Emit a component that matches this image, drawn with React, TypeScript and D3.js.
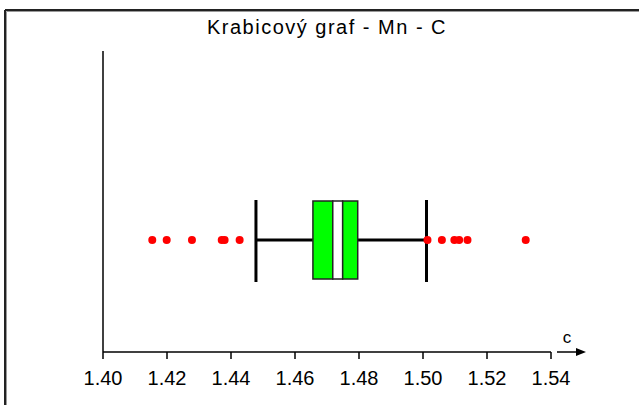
import React from "react";
import * as d3 from "d3";

const title = "Krabicový graf - Mn - C";
const axisLabel = "c";
const tickValues = [1.4, 1.42, 1.44, 1.46, 1.48, 1.5, 1.52, 1.54];
const whiskerLow = 1.4478;
const q1 = 1.4656;
const notchLow = 1.4718;
const notchHigh = 1.4749;
const q3 = 1.4796;
const whiskerHigh = 1.5011;
const outliers = [
  1.4154, 1.4199, 1.4278, 1.4371, 1.438, 1.4427,
  1.5014, 1.5059, 1.5098, 1.5113, 1.5139, 1.5321,
];

const W = 639;
const H = 405;

export default function App() {
  const x = d3.scaleLinear().domain([1.4, 1.54]).range([103, 551]);
  const axisY = 352;
  const cy = 240;
  const boxTop = 201;
  const boxBot = 279;
  const capTop = 200;
  const capBot = 282;
  const font = "'Liberation Sans', Arial, sans-serif";
  return (
    <svg
      width={W}
      height={H}
      style={{ position: "absolute", left: 0, top: 0, background: "#fff" }}
      fontFamily={font}
    >
      {/* frame */}
      <rect x={0} y={0} width={W} height={H} fill="#fff" />
      <line x1={5} y1={10} x2={W} y2={10} stroke="#222" strokeWidth={2} />
      <line x1={5} y1={10} x2={5} y2={H} stroke="#222" strokeWidth={2} />
      <line x1={6.5} y1={11.5} x2={W} y2={11.5} stroke="#999" strokeWidth={1} />
      <line x1={6.5} y1={11.5} x2={6.5} y2={H} stroke="#999" strokeWidth={1} />

      <text x={327} y={34} textAnchor="middle" fontSize={20} letterSpacing={1.5} fill="#000">
        {title}
      </text>

      {/* vertical axis */}
      <line x1={103} y1={51} x2={103} y2={axisY} stroke="#000" strokeWidth={1.5} />
      {/* x axis */}
      <line x1={x(1.4)} y1={axisY} x2={x(1.54)} y2={axisY} stroke="#000" strokeWidth={1.5} />
      {tickValues.map((t) => (
        <g key={t}>
          <line x1={x(t)} y1={axisY} x2={x(t)} y2={axisY + 7} stroke="#000" strokeWidth={1.5} />
          <text x={x(t)} y={385} textAnchor="middle" fontSize={20} fill="#000">
            {d3.format(".2f")(t)}
          </text>
        </g>
      ))}
      {/* arrow */}
      <line x1={557} y1={axisY} x2={578} y2={axisY} stroke="#000" strokeWidth={1.5} />
      <path d={`M576,${axisY - 4} L586,${axisY} L576,${axisY + 4} Z`} fill="#000" />
      <text x={567} y={343} textAnchor="middle" fontSize={17} fill="#000">
        {axisLabel}
      </text>

      {/* whiskers */}
      <line x1={x(whiskerLow)} y1={cy} x2={x(q1)} y2={cy} stroke="#000" strokeWidth={3} />
      <line x1={x(q3)} y1={cy} x2={x(whiskerHigh)} y2={cy} stroke="#000" strokeWidth={3} />
      <line x1={x(whiskerLow)} y1={capTop} x2={x(whiskerLow)} y2={capBot} stroke="#000" strokeWidth={3} />
      <line x1={x(whiskerHigh)} y1={capTop} x2={x(whiskerHigh)} y2={capBot} stroke="#000" strokeWidth={3} />

      {/* box */}
      <rect x={x(q1)} y={boxTop} width={x(notchLow) - x(q1)} height={boxBot - boxTop} fill="#00ff00" stroke="#222" strokeWidth={1.5} />
      <rect x={x(notchLow)} y={boxTop} width={x(notchHigh) - x(notchLow)} height={boxBot - boxTop} fill="#fff" stroke="#222" strokeWidth={1.5} />
      <rect x={x(notchHigh)} y={boxTop} width={x(q3) - x(notchHigh)} height={boxBot - boxTop} fill="#00ff00" stroke="#222" strokeWidth={1.5} />

      {/* outliers */}
      {outliers.map((v, i) => (
        <circle key={i} cx={x(v)} cy={cy} r={4} fill="#ff0000" />
      ))}
    </svg>
  );
}
